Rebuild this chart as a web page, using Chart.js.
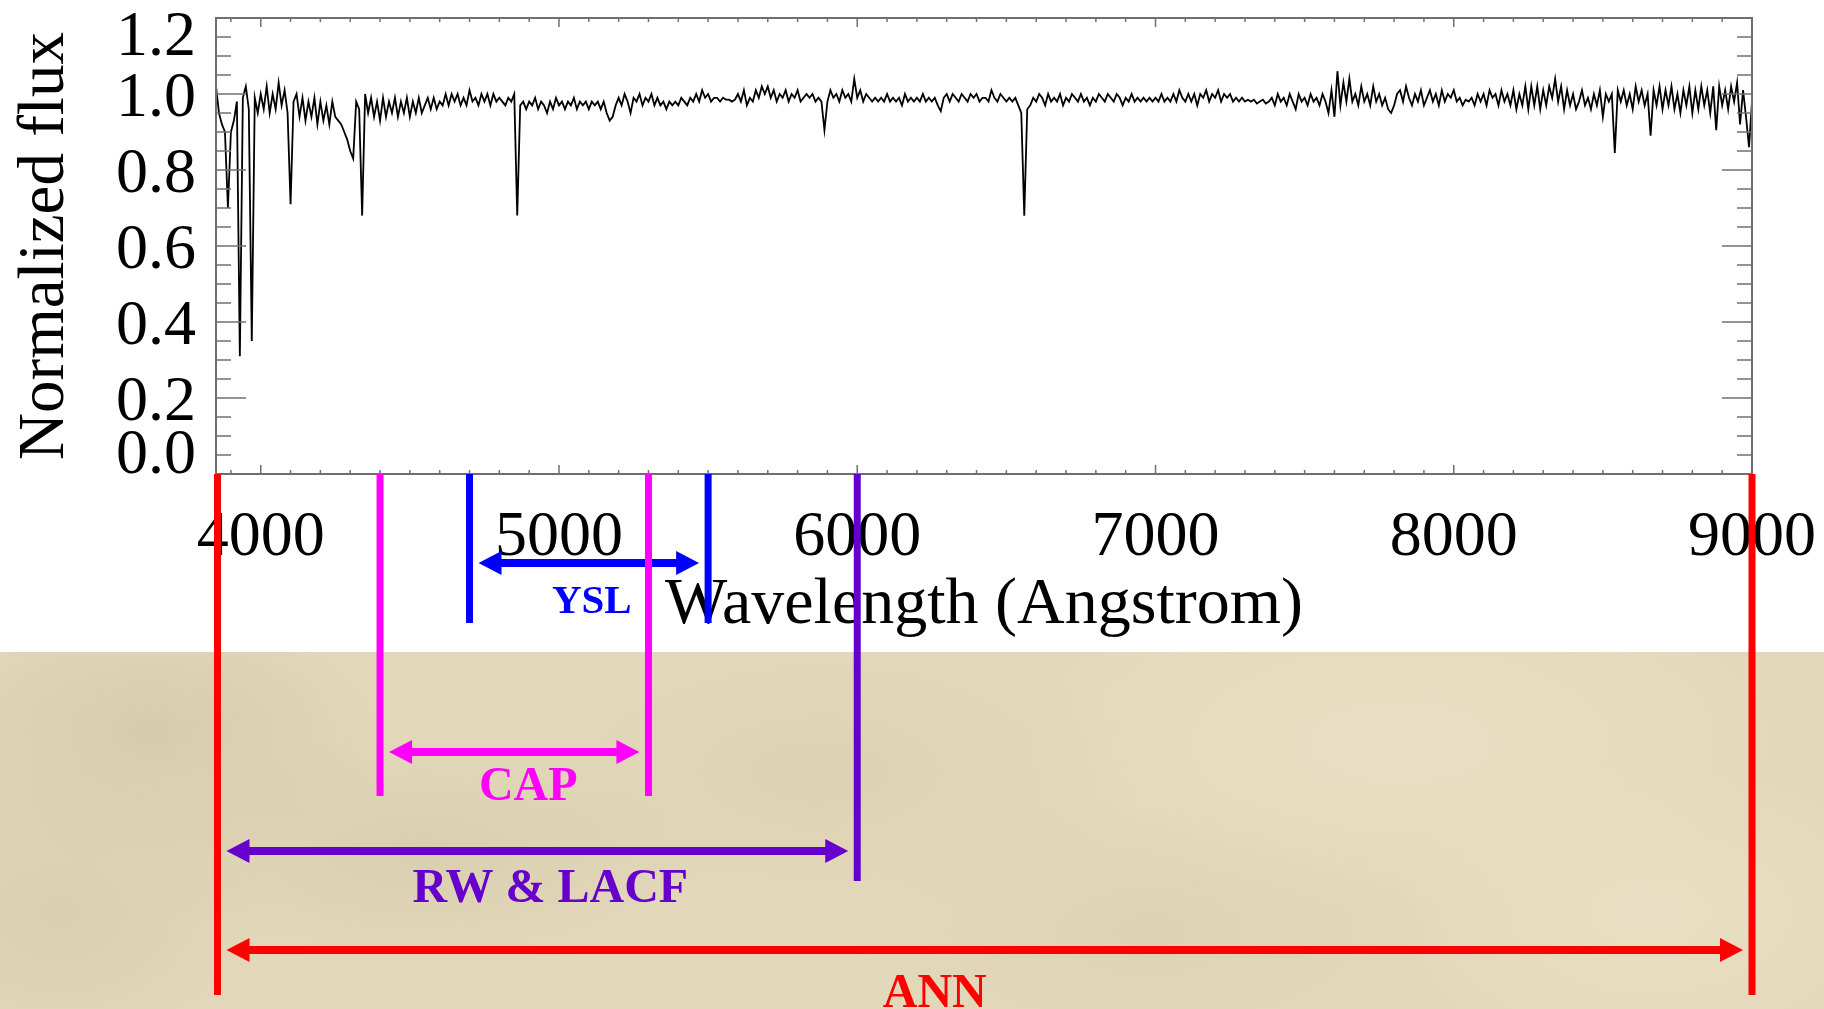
<!DOCTYPE html>
<html>
<head>
<meta charset="utf-8">
<script src="https://cdn.jsdelivr.net/npm/chart.js@4/dist/chart.umd.min.js"></script>
<style>
  html, body { margin: 0; padding: 0; }
  body { width: 1824px; height: 1009px; position: relative; overflow: hidden; background: #fff; }
  #paper {
    position: absolute; left: 0; top: 652px; width: 1824px; height: 357px;
    background-color: #e3d8ba;
    background-image:
      radial-gradient(ellipse 260px 140px at 150px 80px, rgba(196,184,152,0.4), rgba(196,184,152,0) 100%),
      radial-gradient(ellipse 220px 160px at 60px 260px, rgba(204,192,160,0.4), rgba(204,192,160,0) 100%),
      radial-gradient(ellipse 300px 120px at 420px 200px, rgba(200,188,155,0.35), rgba(200,188,155,0) 100%),
      radial-gradient(ellipse 320px 150px at 820px 120px, rgba(208,196,163,0.3), rgba(208,196,163,0) 100%),
      radial-gradient(ellipse 380px 170px at 1400px 90px, rgba(236,228,204,0.6), rgba(236,228,204,0) 100%),
      radial-gradient(ellipse 300px 140px at 1150px 280px, rgba(210,198,166,0.3), rgba(210,198,166,0) 100%),
      radial-gradient(ellipse 260px 150px at 1650px 260px, rgba(238,230,206,0.5), rgba(238,230,206,0) 100%);
  }
  #chart { position: absolute; left: 0; top: 0; }
</style>
</head>
<body>
<div id="paper"></div>
<canvas id="chart" width="1824" height="1009"></canvas>
<script>
const waveStart = 3850;
const waveStep = 10;
const flux = [
  1.02,0.95,0.92,0.90,0.70,0.90,0.93,0.98,0.31,0.99,
  1.02,0.96,0.35,0.99,0.95,1.00,0.96,1.02,0.95,1.00,
  0.96,1.03,0.97,1.01,0.95,0.71,0.98,1.00,0.94,0.99,
  0.93,0.98,0.94,0.99,0.92,0.98,0.93,0.97,0.92,0.98,
  0.94,0.93,0.92,0.90,0.88,0.85,0.83,0.98,0.96,0.68,
  1.00,0.95,0.99,0.94,0.98,0.93,0.99,0.94,0.98,0.95,
  0.99,0.94,0.98,0.95,0.99,0.94,0.98,0.95,0.99,0.95,
  0.97,0.99,0.96,0.99,0.96,0.98,0.97,1.00,0.97,1.00,
  0.98,1.00,0.97,0.99,0.97,1.01,0.98,0.99,0.97,1.00,
  0.98,1.00,0.97,1.00,0.98,0.99,0.98,0.97,0.99,0.98,
  1.00,0.68,0.97,0.98,0.96,0.98,0.97,0.99,0.96,0.98,
  0.97,0.95,0.98,0.96,0.99,0.97,0.98,0.96,0.98,0.97,
  0.99,0.96,0.98,0.97,0.98,0.96,0.98,0.97,0.98,0.96,
  0.98,0.95,0.93,0.94,0.97,0.99,0.97,1.00,0.98,0.95,
  0.99,0.98,1.00,0.97,0.99,0.98,1.00,0.97,0.99,0.97,
  0.98,0.96,0.98,0.97,0.98,0.97,0.99,0.98,0.97,0.99,
  0.98,1.00,0.98,1.01,0.99,1.00,0.98,0.99,0.99,0.98,
  0.99,0.985,0.985,0.98,0.985,1.00,0.98,1.01,0.97,0.99,
  0.98,1.01,0.99,1.02,1.00,1.02,0.99,1.01,0.98,1.00,
  0.99,1.01,0.98,1.00,0.99,1.01,0.98,0.99,1.00,0.99,
  1.00,0.98,0.99,0.98,0.905,0.98,1.01,0.99,1.00,0.98,
  1.01,0.99,1.00,0.98,1.04,0.99,1.01,0.98,1.00,0.99,
  0.98,0.99,0.98,0.99,0.98,1.00,0.98,0.99,0.98,0.99,
  0.97,1.00,0.98,0.99,0.98,0.99,0.98,1.00,0.98,0.99,
  0.98,0.99,0.97,0.955,0.99,1.00,0.98,1.00,0.99,0.98,
  1.00,0.99,0.98,1.00,0.99,1.00,0.98,0.99,0.99,0.98,
  1.01,0.99,0.98,1.00,0.99,0.98,0.99,0.98,0.99,0.97,
  0.95,0.68,0.96,0.97,0.99,0.98,1.00,0.99,0.97,1.00,
  0.98,0.99,0.98,1.00,0.97,0.99,0.98,1.00,0.99,0.98,
  1.00,0.98,0.99,0.97,0.99,0.98,1.00,0.99,0.98,1.00,
  0.99,0.98,1.00,0.99,0.97,0.99,0.98,1.00,0.98,0.99,
  0.98,0.99,0.98,0.99,0.98,0.99,0.98,1.00,0.98,0.99,
  0.98,1.00,0.98,1.01,0.99,0.98,1.00,0.98,1.00,0.97,
  1.00,0.99,1.01,0.98,1.00,0.99,1.01,0.98,1.00,0.99,
  1.00,0.98,0.99,0.98,0.99,0.98,0.985,0.98,0.985,0.975,
  0.98,0.985,0.975,0.98,0.99,0.97,1.00,0.98,0.99,0.97,
  1.00,0.98,0.96,1.00,0.98,0.99,0.97,1.00,0.98,0.99,
  0.97,1.00,0.98,0.95,1.01,0.94,1.06,0.97,1.03,0.98,
  1.04,0.98,1.00,0.97,1.02,0.98,1.00,0.97,1.02,0.98,
  1.00,0.97,0.99,0.96,0.95,0.97,1.00,1.01,0.98,1.02,
  0.99,0.97,1.00,0.98,1.01,0.97,0.99,1.01,0.98,1.00,
  0.97,1.01,0.98,1.00,0.99,1.01,0.98,0.99,0.97,0.985,
  0.98,0.99,0.97,1.00,0.98,1.00,0.97,1.01,0.99,1.00,
  0.97,1.01,0.98,1.00,0.97,1.01,0.96,1.00,0.97,1.02,
  0.96,1.02,0.97,1.02,0.96,1.01,0.97,1.02,0.99,1.04,
  0.98,1.02,0.96,1.01,0.97,1.00,0.96,0.98,1.01,0.97,
  0.99,0.96,1.00,0.97,1.01,0.94,1.00,0.98,1.00,0.845,
  1.01,0.98,1.01,0.97,1.00,0.96,1.02,0.98,1.01,0.97,
  1.00,0.89,1.01,0.97,1.02,0.96,1.01,0.97,1.02,0.96,
  1.00,0.95,1.01,0.97,1.02,0.95,1.01,0.96,1.02,0.97,
  1.01,0.95,1.02,0.905,1.02,0.97,1.01,0.96,1.02,0.98,
  1.03,0.92,1.01,0.94,0.86,0.98
];

// axis ticks
const xTickValues = [4000, 5000, 6000, 7000, 8000, 9000];
const xTickLabels = ['4000', '5000', '6000', '7000', '8000', '9000'];
const yTickValues = [0, 0.2, 0.4, 0.6, 0.8, 1.0, 1.2];
const yTickLabels = ['0.0', '0.2', '0.4', '0.6', '0.8', '1.0', '1.2'];

// wavelength coverage of each method
const bandNames = ['YSL', 'CAP', 'RW & LACF', 'ANN'];
const bandStart = [4700, 4400, 3855, 3855];
const bandEnd = [5500, 5300, 6000, 9000];

// drawing style for the bands (pixels below the x axis)
const bandStyle = [
  { color: '#0000ff', lineDown: 149, arrowDown: 89, textDown: 139, font: 41, dx: 3 },
  { color: '#ff00ff', lineDown: 322, arrowDown: 278, textDown: 326, font: 48, dx: 14 },
  { color: '#6600cc', lineDown: 407, arrowDown: 377, textDown: 428, font: 48, dx: 13 },
  { color: '#ff0000', lineDown: 521, arrowDown: 476, textDown: 533, font: 48, dx: -50 }
];

const serif = '"Liberation Serif", "Times New Roman", serif';
const axisGray = '#6f6f6f';

const points = flux.map((f, i) => ({ x: waveStart + i * waveStep, y: f }));

function seg(ctx, x1, y1, x2, y2) {
  ctx.beginPath();
  ctx.moveTo(x1, y1);
  ctx.lineTo(x2, y2);
  ctx.stroke();
}

function arrow(ctx, x1, x2, y, color) {
  const head = 23, half = 12, shaft = 8;
  ctx.fillStyle = color;
  ctx.fillRect(x1 + head - 1, y - shaft / 2, x2 - x1 - 2 * head + 2, shaft);
  ctx.beginPath();
  ctx.moveTo(x1, y);
  ctx.lineTo(x1 + head, y - half);
  ctx.lineTo(x1 + head, y + half);
  ctx.closePath();
  ctx.fill();
  ctx.beginPath();
  ctx.moveTo(x2, y);
  ctx.lineTo(x2 - head, y - half);
  ctx.lineTo(x2 - head, y + half);
  ctx.closePath();
  ctx.fill();
}

const decorations = {
  id: 'decorations',
  afterDraw(chart) {
    const { ctx, chartArea: a, scales } = chart;
    const xs = scales.x, ys = scales.y;
    ctx.save();

    // frame and inward ticks
    ctx.strokeStyle = axisGray;
    ctx.lineWidth = 2;
    ctx.strokeRect(a.left, a.top, a.right - a.left, a.bottom - a.top);
    ctx.lineWidth = 1.5;
    for (let w = 3900; w <= 9000; w += 100) {
      const px = xs.getPixelForValue(w);
      const len = w % 1000 === 0 ? 9 : 4;
      seg(ctx, px, a.top, px, a.top + len);
      seg(ctx, px, a.bottom, px, a.bottom - len);
    }
    for (let k = 1; k < 24; k++) {
      const py = ys.getPixelForValue(k * 0.05);
      const len = k % 4 === 0 ? 30 : 15;
      seg(ctx, a.left, py, a.left + len, py);
      seg(ctx, a.right, py, a.right - len, py);
    }

    // tick labels
    ctx.fillStyle = '#000';
    ctx.font = '64px ' + serif;
    ctx.textBaseline = 'alphabetic';
    ctx.textAlign = 'right';
    yTickValues.forEach((v, i) => {
      let base = ys.getPixelForValue(v) + 22;
      base = Math.min(Math.max(base, a.top + 37), a.bottom - 1);
      ctx.fillText(yTickLabels[i], a.left - 20, base);
    });
    ctx.textAlign = 'center';
    xTickValues.forEach((v, i) => {
      ctx.fillText(xTickLabels[i], xs.getPixelForValue(v), a.bottom + 81);
    });

    // axis titles
    ctx.font = '66px ' + serif;
    ctx.fillText('Wavelength (Angstrom)', (a.left + a.right) / 2, a.bottom + 149);
    ctx.font = '65px ' + serif;
    ctx.save();
    ctx.translate(63, (a.top + a.bottom) / 2);
    ctx.rotate(-Math.PI / 2);
    ctx.fillText('Normalized flux', 0, 0);
    ctx.restore();

    // coverage bands
    bandNames.forEach((name, i) => {
      const st = bandStyle[i];
      const x1 = xs.getPixelForValue(bandStart[i]);
      const x2 = xs.getPixelForValue(bandEnd[i]);
      ctx.strokeStyle = st.color;
      ctx.lineWidth = 7;
      seg(ctx, x1, a.bottom, x1, a.bottom + st.lineDown);
      seg(ctx, x2, a.bottom, x2, a.bottom + st.lineDown);
      arrow(ctx, x1 + 9, x2 - 9, a.bottom + st.arrowDown, st.color);
      ctx.fillStyle = st.color;
      ctx.font = 'bold ' + st.font + 'px ' + serif;
      ctx.textAlign = 'center';
      ctx.fillText(name, (x1 + x2) / 2 + st.dx, a.bottom + st.textDown);
    });

    ctx.restore();
  }
};

new Chart(document.getElementById('chart'), {
  type: 'line',
  data: {
    datasets: [{
      data: points,
      borderColor: '#000',
      borderWidth: 1.8,
      pointRadius: 0,
      tension: 0,
      fill: false
    }]
  },
  options: {
    responsive: false,
    animation: false,
    parsing: false,
    layout: { padding: { left: 216, right: 72, top: 18, bottom: 535 } },
    plugins: { legend: { display: false }, tooltip: { enabled: false } },
    scales: {
      x: { type: 'linear', min: 3850, max: 9000, display: false },
      y: { type: 'linear', min: 0, max: 1.2, display: false }
    }
  },
  plugins: [decorations]
});
</script>
</body>
</html>
